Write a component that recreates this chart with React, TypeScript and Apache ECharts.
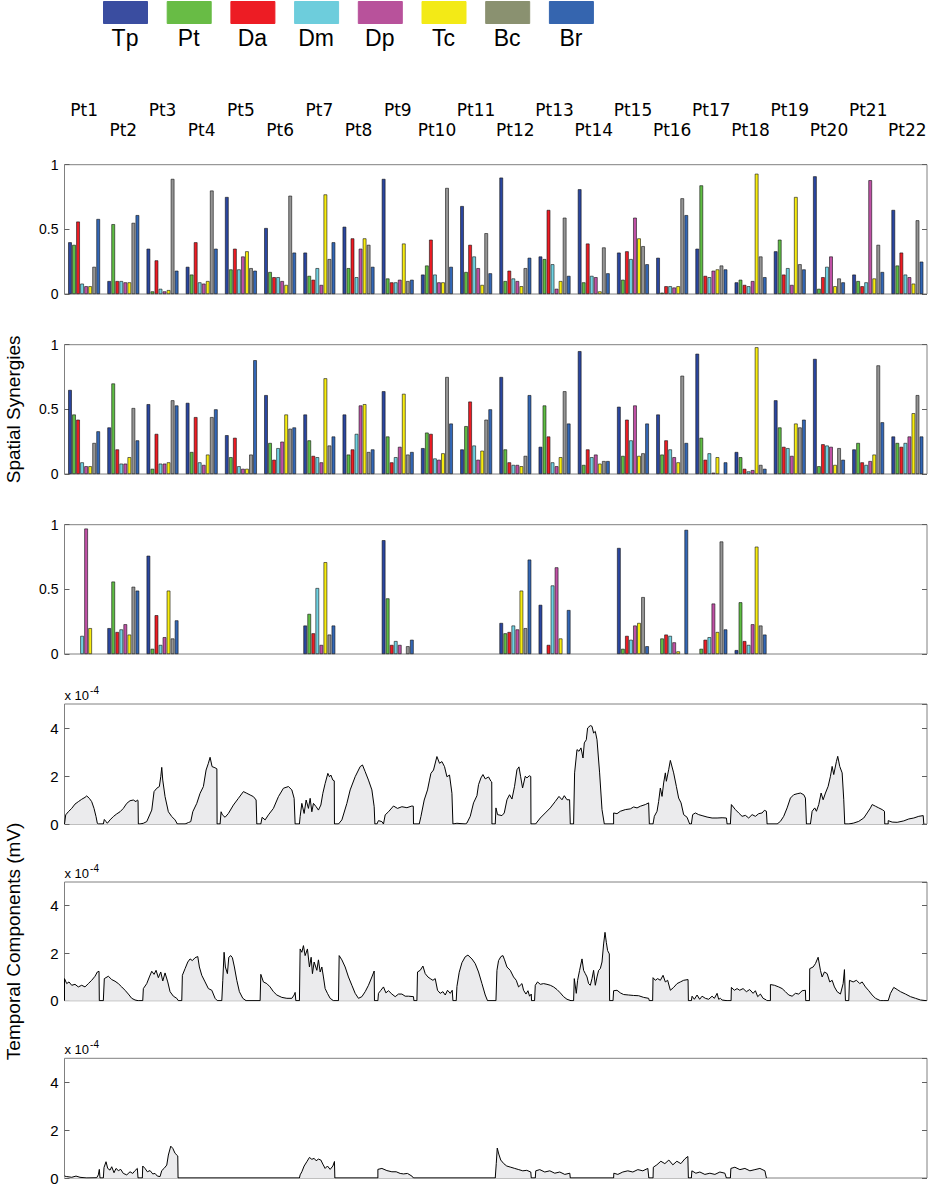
import React, { useEffect, useRef } from 'react';
import * as echarts from 'echarts';

const patients = ['Pt1','Pt2','Pt3','Pt4','Pt5','Pt6','Pt7','Pt8','Pt9','Pt10','Pt11','Pt12','Pt13','Pt14','Pt15','Pt16','Pt17','Pt18','Pt19','Pt20','Pt21','Pt22'];
const muscles = ['Tp','Pt','Da','Dm','Dp','Tc','Bc','Br'];
const legendColors = ['#3a4da0','#68bc45','#ed1c24','#6dcddc','#b8529b','#f3ea16','#8a9170','#3565af'];
const barColors = ['#2a46a0','#5fbd44','#ee1c24','#6fd2e2','#c050a6','#f7ec10','#959595','#3367b6'];
const spatialTitle = 'Spatial Synergies';
const temporalTitle = 'Temporal Components (mV)';

// rows = patients, columns = muscles (Tp, Pt, Da, Dm, Dp, Tc, Bc, Br)
const synergy1 = [
  [0.40,0.38,0.56,0.08,0.06,0.06,0.21,0.58],
  [0.10,0.54,0.10,0.10,0.09,0.09,0.55,0.61],
  [0.35,0.02,0.26,0.04,0.02,0.03,0.89,0.18],
  [0.21,0.15,0.40,0.09,0.08,0.10,0.80,0.35],
  [0.75,0.19,0.35,0.19,0.29,0.33,0.20,0.18],
  [0.51,0.17,0.13,0.13,0.10,0.07,0.76,0.32],
  [0.32,0.14,0.11,0.20,0.07,0.77,0.27,0.40],
  [0.52,0.20,0.43,0.13,0.35,0.43,0.38,0.21],
  [0.89,0.12,0.09,0.09,0.11,0.39,0.10,0.11],
  [0.15,0.22,0.42,0.15,0.09,0.09,0.82,0.21],
  [0.68,0.17,0.38,0.29,0.20,0.07,0.47,0.16],
  [0.90,0.10,0.18,0.12,0.10,0.06,0.20,0.28],
  [0.29,0.27,0.65,0.23,0.04,0.10,0.59,0.14],
  [0.81,0.09,0.39,0.14,0.13,0.02,0.36,0.16],
  [0.32,0.11,0.33,0.27,0.59,0.43,0.37,0.23],
  [0.28,0.01,0.06,0.06,0.05,0.06,0.74,0.61],
  [0.35,0.84,0.14,0.13,0.18,0.19,0.22,0.19],
  [0.09,0.11,0.07,0.06,0.10,0.93,0.29,0.13],
  [0.33,0.42,0.15,0.20,0.07,0.75,0.23,0.19],
  [0.91,0.04,0.13,0.21,0.29,0.06,0.12,0.09],
  [0.15,0.10,0.06,0.09,0.88,0.12,0.38,0.17],
  [0.65,0.22,0.32,0.15,0.13,0.08,0.57,0.25],
];

const synergy2 = [
  [0.65,0.46,0.42,0.09,0.06,0.06,0.24,0.33],
  [0.36,0.70,0.19,0.08,0.08,0.13,0.51,0.26],
  [0.54,0.04,0.31,0.08,0.08,0.09,0.57,0.53],
  [0.55,0.17,0.44,0.09,0.07,0.15,0.44,0.50],
  [0.30,0.13,0.28,0.06,0.04,0.04,0.15,0.88],
  [0.61,0.24,0.11,0.20,0.25,0.46,0.35,0.36],
  [0.46,0.26,0.14,0.13,0.09,0.74,0.22,0.29],
  [0.46,0.15,0.19,0.31,0.53,0.54,0.17,0.19],
  [0.64,0.29,0.09,0.13,0.21,0.62,0.15,0.17],
  [0.20,0.32,0.31,0.12,0.11,0.16,0.75,0.39],
  [0.19,0.37,0.56,0.22,0.11,0.18,0.42,0.50],
  [0.75,0.19,0.09,0.07,0.07,0.06,0.14,0.61],
  [0.21,0.53,0.29,0.09,0.06,0.13,0.64,0.39],
  [0.95,0.07,0.19,0.13,0.15,0.08,0.10,0.10],
  [0.52,0.14,0.42,0.26,0.53,0.14,0.16,0.39],
  [0.46,0.15,0.26,0.19,0.13,0.09,0.76,0.24],
  [0.93,0.28,0.11,0.16,0.01,0.13,null,0.09],
  [0.17,0.13,0.04,0.02,0.03,0.98,0.07,0.04],
  [0.57,0.36,0.21,0.20,0.14,0.39,0.36,0.42],
  [0.89,0.06,0.23,0.22,0.21,0.07,0.20,0.11],
  [0.19,0.24,0.09,0.07,0.10,0.15,0.84,0.40],
  [0.29,0.24,0.21,0.24,0.29,0.47,0.61,0.29],
];

const N = null;
const synergy3 = [
  [N,N,N,0.14,0.97,0.20,N,N],
  [0.20,0.56,0.17,0.19,0.23,0.15,0.52,0.49],
  [0.76,0.04,0.30,0.07,0.13,0.49,0.12,0.26],
  [N,N,N,N,N,N,N,N],
  [N,N,N,N,N,N,N,N],
  [N,N,N,N,N,N,N,N],
  [0.22,0.31,0.16,0.51,0.07,0.71,0.15,0.22],
  [N,N,N,N,N,N,N,N],
  [0.88,0.43,0.07,0.10,0.07,N,0.06,0.11],
  [N,N,N,N,N,N,N,N],
  [N,N,N,N,N,N,N,N],
  [0.24,0.16,0.17,0.22,0.19,0.49,0.20,0.73],
  [0.38,N,0.07,0.53,0.67,0.12,N,0.34],
  [N,N,N,N,N,N,N,N],
  [0.82,0.04,0.14,0.11,0.22,0.24,0.44,0.06],
  [N,0.12,0.15,0.14,0.09,0.02,N,0.96],
  [N,0.04,0.11,0.13,0.39,0.17,0.87,0.19],
  [0.03,0.40,0.10,0.07,0.23,0.83,0.22,0.15],
  [N,N,N,N,N,N,N,N],
  [N,N,N,N,N,N,N,N],
  [N,N,N,N,N,N,N,N],
  [N,N,N,N,N,N,N,N],
];

// temporal components: segments of [sample, value x 1e-4 mV]
const temporal1 = [
  [[0,0],[1.2,0.38],[3.8,0.51],[7.2,0.65],[10.5,0.83],[13.8,0.93],[17.2,1.03],[20.5,1.11],[22.2,1.17],[24.8,1.07],[27.2,0.93],[29.5,0.65],[31.5,0.31],[32.8,0.03],[33.8,0]],
  [[38.8,0],[39.8,0.19],[41.5,0.10],[42.8,0.03],[45.5,0.17],[48.8,0.31],[52.2,0.42],[55.5,0.51],[58.8,0.65],[62.2,0.86],[65.5,0.97],[68.8,1.00],[71.5,0.93],[72.8,1.00],[73.5,0.98],[73.8,0]],
  [[75.5,0],[78.8,0.03],[82.2,0.10],[87.2,0.58],[89.5,1.35],[92.2,1.49],[94.8,1.56],[96.2,1.97],[97.2,2.36],[98.2,1.83],[100.5,1.14],[103.8,0.51],[107.2,0.31],[110.5,0.17],[112.8,0]],
  [[120.5,0],[123.8,0.06],[126.2,0.10],[128.2,0.51],[132.2,0.86],[135.5,1.28],[138.8,1.56],[141.5,2.25],[143.8,2.53],[145.5,2.78],[147.5,2.39],[149.5,2.36],[151.5,2.32],[152.3,2.3],[152.5,0]],
  [[155.5,0],[156.5,0.51],[157.8,0.38],[160.5,0.28],[163.8,0.44],[168.8,0.79],[173.8,1.07],[178.8,1.35],[182.2,1.28],[185.5,1.21],[188.8,1.14],[191.5,1.00],[192.2,0]],
  [[196.2,0],[197.5,0.28],[200.5,0.17],[203.8,0.38],[208.8,0.65],[213.8,1.14],[218.8,1.49],[223.8,1.56],[227.2,1.42],[229.5,1.07],[230.5,0]],
  [[234.8,0],[235.5,0.31],[237.2,0.86],[239.5,0.44],[241.5,1.00],[243.8,0.65],[245.5,1.07],[247.2,0.51],[248.8,0.86],[251.5,0.72],[253.8,0.58],[256.2,0.79],[258.2,1.28],[260.5,1.69],[263.2,2.11],[264.8,1.97],[266.2,2.04],[268.2,1.83],[269.6,1.8],[269.8,0]],
  [[273.8,0],[277.2,0.17],[282.2,0.86],[285.5,1.42],[290.5,1.97],[295.5,2.39],[297.8,2.46],[300.5,2.18],[303.8,1.83],[307.2,1.42],[309.5,0.72],[310.2,0]],
  [[312.2,0],[313.8,0.14],[317.2,0.10],[318.8,0],[320.5,0.38],[323.8,0.51],[328.8,0.75],[332.8,0.65],[337.2,0.72],[342.2,0.68],[347.2,0.75],[348.6,0.74],[348.8,0]],
  [[354.5,0],[356.2,0.31],[359.5,1.00],[362.8,1.42],[364.8,1.83],[366.2,2.11],[368.8,2.25],[372.2,2.81],[374.8,2.53],[377.2,2.60],[379.8,2.39],[382.2,1.97],[384.8,2.04],[387.2,1.28],[388.2,0]],
  [[392.2,0.03],[400.5,0],[402.2,0.04],[405.5,0.32],[408.8,0.88],[412.2,1.18],[413.8,1.64],[416.2,1.92],[418.2,2.06],[420.5,1.88],[423.8,1.96],[426.2,1.78],[427,1.75],[427.2,0]],
  [[430.5,0],[431.2,0.67],[432.8,0.39],[437.2,0.35],[439.5,0.46],[442.2,1.01],[444.8,1.22],[447.2,1.04],[449.8,1.57],[452.2,2.26],[454.2,2.38],[455.8,1.99],[457.8,1.5],[460.5,1.99],[462.2,1.92],[464.5,2.01],[466,1.98],[466.2,0]],
  [[470.8,0],[475.5,0.25],[480.5,0.46],[485.5,0.67],[490.5,0.94],[494.2,1.15],[497.2,1.01],[499.5,1.18],[502.2,1.01],[504.8,1.01],[505.5,0]],
  [[508.8,0],[509.8,2.13],[512.2,3.10],[514.2,3.03],[516.2,3.17],[518.2,2.75],[519.5,3.38],[521.5,3.51],[522.8,4.00],[525.5,4.10],[527.2,4.07],[528.8,3.79],[530.5,3.86],[532.2,3.51],[534.8,2.13],[537.2,0.60],[539.5,0]],
  [[548.8,0],[548.8,0.46],[552.2,0.43],[555.5,0.53],[560.5,0.60],[565.5,0.63],[568.8,0.71],[572.2,0.67],[575.5,0.74],[580.5,0.81],[583.8,0.88],[584.5,0]],
  [[588.2,0],[589.5,0.32],[592.2,0.53],[593.8,0.94],[595.5,1.5],[597.2,1.15],[598.8,1.71],[600.5,2.13],[601.5,1.78],[603.8,2.26],[605.5,2.65],[608.8,2.13],[611.5,1.57],[613.8,1.08],[616.2,0.88],[618.8,0.39],[622.2,0.28],[624.8,0]],
  [[626.5,0],[627.8,0.39],[630.5,0.46],[633.8,0.39],[637.2,0.35],[642.2,0.29],[647.2,0.25],[652.2,0.25],[657.2,0.26],[661.5,0.25],[662.2,0]],
  [[665.5,0],[666.5,0.81],[670.5,0.60],[673.8,0.46],[677.2,0.32],[680.5,0.36],[683.8,0.25],[687.2,0.39],[690.5,0.32],[693.8,0.43],[697.2,0.46],[699.5,0.57],[701.5,0.53],[702.2,0]],
  [[712.2,0],[715.5,0.11],[718.8,0.32],[722.2,0.67],[725.5,1.08],[728.8,1.22],[732.2,1.26],[735.5,1.29],[738.8,1.22],[740.5,1.08],[741.5,0]],
  [[745.5,0],[747.2,0.53],[749.8,0.67],[751.5,0.53],[753.8,0.81],[756.2,1.29],[758.2,1.01],[760.5,1.29],[763.2,1.57],[765.5,1.99],[767.2,2.40],[768.8,2.06],[771.5,2.61],[772.8,2.82],[774.8,2.40],[777.2,2.13],[778.8,1.01],[779.8,0]],
  [[783.8,0],[788.8,0.04],[793.8,0.11],[798.8,0.25],[802.2,0.46],[805.5,0.67],[807.2,0.81],[810.5,0.74],[813.8,0.67],[817.2,0.60],[819.5,0.53],[819.8,0]],
  [[823.2,0],[823.2,0.14],[827.2,0.08],[832.2,0.07],[838.8,0.13],[843.8,0.21],[848.8,0.25],[853.8,0.32],[858.2,0.35],[858.8,0]],
];

const temporal2 = [
  [[0,0],[0,0.93],[2.2,0.72],[4.5,0.79],[7.2,0.65],[10.5,0.69],[13.8,0.58],[17.2,0.65],[20.5,0.58],[23.8,0.72],[27.2,0.86],[30.5,1.03],[32.8,1.21],[34.5,1.24],[34.8,0]],
  [[38.8,0],[39.8,0.93],[43.8,1.03],[47.2,0.89],[50.5,0.82],[53.8,0.72],[57.2,0.58],[60.5,0.44],[63.8,0.28],[67.2,0.10],[70.5,0.03],[73.8,0]],
  [[78.2,0],[78.8,0.51],[82.2,0.72],[84.8,1.0],[87.2,1.24],[89.5,1.11],[91.5,1.28],[93.8,0.97],[96.2,1.21],[98.2,0.83],[100.5,1.17],[103.2,0.79],[105.5,0.38],[108.8,0.19],[112.2,0.10],[113.8,0]],
  [[117.2,0],[117.8,1.07],[120.5,1.35],[123.2,1.63],[125.5,1.76],[127.8,1.69],[130.5,1.81],[133.2,1.86],[134.8,1.42],[137.2,1.07],[140.5,0.79],[143.8,0.51],[147.2,0.44],[150.5,0.10],[152.8,0]],
  [[157.2,0],[158.2,0.86],[159.5,2.04],[160.8,1.42],[162.8,1.14],[164.2,1.83],[166.2,1.90],[167.8,1.81],[169.8,1.42],[172.2,0.86],[174.8,0.38],[178.2,0.10],[181.5,0]],
  [[195.5,0],[196.2,1.11],[198.8,0.79],[202.2,0.72],[205.5,0.58],[208.8,0.38],[212.2,0.24],[217.2,0.14],[222.2,0.10],[227.2,0.10],[229.5,0.24],[230.5,0.35],[231.2,0]],
  [[234.8,0],[235.5,2.18],[237.2,2.04],[238.8,2.32],[240.5,1.90],[242.8,2.18],[244.8,1.42],[246.5,1.83],[247.8,1.14],[249.5,1.63],[252.2,1.28],[253.8,1.72],[255.5,1.21],[257.2,1.42],[258.8,1.0],[260.5,0.51],[262.8,0.31],[265.5,0.10],[268.8,0]],
  [[273.8,0],[274.5,1.90],[277.2,1.72],[280.5,1.42],[283.8,1.0],[287.2,0.65],[290.5,0.31],[293.8,0.10],[297.2,0.17],[300.5,0.38],[303.8,0.65],[307.2,1.0],[309.5,1.25],[309.8,0]],
  [[313.2,0],[313.8,0.31],[316.2,0.44],[318.8,0.58],[321.2,0.33],[323.8,0.42],[327.2,0.28],[330.5,0.17],[333.8,0.28],[337.2,0.28],[340.5,0.19],[343.8,0.19],[348.8,0.17],[349.2,0]],
  [[352.2,0],[352.8,1.21],[355.5,1.28],[358.2,1.46],[360.5,1.14],[363.2,1.0],[365.5,0.93],[368.2,0.86],[370.5,0.93],[372.8,0.44],[375.5,0.31],[378.2,0.38],[380.5,0.24],[382.8,0.44],[385.5,0.31],[387.5,0.44],[388.2,0]],
  [[391.5,0],[392.2,0.6],[394.5,1.2],[397.2,1.6],[400.5,1.85],[403.2,1.92],[407.2,1.76],[410.5,1.56],[413.8,1.21],[417.2,0.72],[420.5,0.24],[422.8,0]],
  [[431.2,0],[432.2,1.28],[433.8,1.69],[436.2,1.86],[438.2,1.90],[439.8,1.72],[442.2,1.42],[445.5,1.28],[448.8,1.0],[451.5,0.86],[453.8,0.58],[457.2,0.72],[458.8,0.44],[461.2,0.28],[463.2,0.42],[464.8,0.19],[466.5,0.28],[466.8,0]],
  [[469.8,0],[470.5,0.65],[472.8,0.79],[475.5,0.69],[478.8,0.72],[482.2,0.69],[485.5,0.65],[488.8,0.58],[492.2,0.47],[495.5,0.33],[498.8,0.17],[502.2,0.06],[506.2,0]],
  [[508.8,0],[509.5,0.93],[511.5,0.31],[512.8,0.86],[514.8,1.28],[517.2,1.76],[518.8,1.28],[520.5,1.14],[522.2,1.0],[523.8,0.72],[525.5,0.65],[527.2,0.93],[528.8,1.28],[530.5,0.65],[532.2,1.0],[533.8,1.28],[535.5,1.35],[537.2,1.63],[538.8,2.39],[540.2,2.88],[541.5,2.46],[542.8,2.11],[544.5,1.97],[544.8,0]],
  [[548.2,0],[548.8,0.42],[552.2,0.44],[555.5,0.33],[558.8,0.26],[563.8,0.24],[568.8,0.22],[573.8,0.21],[578.8,0.14],[583.8,0.10],[584.5,0]],
  [[587.8,0],[588.2,0.97],[590.5,0.86],[592.8,0.93],[595.5,0.86],[598.2,1.07],[600.5,0.79],[602.8,0.86],[605.5,0.44],[608.8,0.56],[612.2,0.72],[615.5,0.79],[618.8,0.86],[623.2,0.89],[623.5,0]],
  [[626.5,0],[627.2,0.19],[629.5,0.06],[632.2,0.24],[634.8,0.06],[637.2,0.19],[640.5,0.10],[643.8,0.06],[647.2,0.19],[649.5,0.10],[652.2,0.31],[653.8,0.06],[655.5,0.10],[657.2,0.03],[662.2,0]],
  [[666.2,0],[666.5,0.56],[669.5,0.44],[672.2,0.51],[674.8,0.44],[678.2,0.51],[681.5,0.38],[684.8,0.47],[688.2,0.31],[690.5,0.42],[692.8,0.17],[695.5,0.28],[698.2,0.10],[701.5,0.03],[702.2,0]],
  [[705.5,0],[705.5,0.68],[709.5,0.65],[713.8,0.58],[717.2,0.51],[720.5,0.38],[723.8,0.24],[727.2,0.19],[730.5,0.31],[733.8,0.28],[737.2,0.42],[740.5,0.44],[740.8,0]],
  [[744.5,0],[744.8,1.35],[748.2,1.42],[750.5,1.56],[753.2,1.83],[755.5,1.28],[757.2,1.0],[759.5,1.21],[762.2,1.14],[764.8,0.79],[767.2,0.86],[769.5,0.58],[772.2,0.38],[775.5,0.28],[778.2,0.72],[779.5,1.31],[780.5,0]],
  [[783.8,0],[784.5,0.86],[788.2,0.79],[791.5,0.86],[794.8,0.72],[797.2,0.79],[800.5,0.58],[803.8,0.42],[807.2,0.24],[810.5,0.10],[815.5,0],[818.8,0]],
  [[823.2,0],[825.5,0.31],[828.8,0.56],[832.2,0.47],[835.5,0.38],[840.5,0.28],[845.5,0.17],[850.5,0.10],[855.5,0.03],[861.5,0]],
];

const temporal3 = [
  [[0,0.08],[2.2,0.06],[7.2,0.03],[11.5,0.08],[15.5,0.03],[22.2,0],[32.2,0.01],[33.8,0.13],[34.8,0.36],[35.5,0]],
  [[38.8,0],[39.5,0.44],[41.5,0.68],[43.2,0.40],[45.5,0.33],[47.2,0.47],[49.5,0.22],[51.5,0.40],[53.8,0.31],[56.2,0.36],[58.8,0.19],[62.2,0.13],[65.5,0.26],[68.2,0.19],[70.5,0.31],[72.8,0.40],[73.5,0]],
  [[77.8,0],[78.2,0.5],[80.5,0.40],[82.8,0.26],[85.5,0.31],[88.2,0.17],[90.5,0.19],[92.8,0.08],[95.5,0.06],[97.2,0.31],[99.5,0.40],[102.2,0.54],[103.8,0.96],[106.2,1.33],[108.2,1.24],[110.5,1.03],[113.2,0.92],[113.5,0]],
  [[234.8,0],[235.5,0.13],[237.2,0.26],[239.5,0.5],[242.2,0.68],[244.8,0.86],[247.2,0.78],[249.5,0.82],[251.5,0.72],[253.8,0.79],[256.2,0.75],[258.2,0.58],[260.5,0.40],[262.8,0.5],[265.5,0.36],[268.2,0.5],[269.8,0.69],[270.2,0]],
  [[313.2,0],[313.2,0.36],[317.2,0.40],[322.2,0.31],[327.2,0.26],[331.5,0.26],[335.5,0.19],[338.8,0.17],[342.8,0.19],[347.2,0.08],[348.8,0]],
  [[430.5,0],[431.5,0.6],[432.5,1.25],[434,1.0],[436,0.75],[439,0.6],[442,0.5],[446,0.45],[450,0.4],[454,0.35],[458,0.3],[462,0.32],[466,0.25],[466.5,0]],
  [[470.5,0],[471,0.3],[475,0.35],[480,0.25],[485,0.3],[490,0.2],[495,0.25],[500,0.15],[505,0.2],[505.5,0]],
  [[548.8,0],[549,0.2],[553,0.15],[558,0.25],[563,0.3],[568,0.25],[573,0.35],[578,0.3],[583,0.4],[584,0]],
  [[588.2,0],[588.5,0.45],[592,0.55],[596,0.7],[600,0.6],[604,0.75],[608,0.55],[612,0.7],[616,0.6],[620,0.8],[623,0.9],[623.5,0]],
  [[626.5,0],[627,0.3],[631,0.2],[635,0.25],[640,0.15],[645,0.2],[650,0.15],[655,0.25],[660,0.2],[661.5,0]],
  [[665.5,0],[666,0.4],[670,0.45],[675,0.35],[680,0.4],[685,0.3],[690,0.35],[695,0.4],[700,0.3],[701.5,0]],
];

const spatialRange = [0, 1];
const spatialStep = 0.5;
const temporalRange = [0, 5];
const temporalStep = 2;
const sampleCount = 862;

const GRID_LEFT = 64.5;
const GRID_RIGHT = 17;
const gridBoxes = [
  { top: 164.7, height: 129.3 },
  { top: 344.7, height: 129.3 },
  { top: 524.7, height: 129.3 },
  { top: 704, height: 120 },
  { top: 882, height: 118.7 },
  { top: 1058.3, height: 119.7 },
];

const FONT = 'Liberation Sans, Arial, sans-serif';

export default function App() {
  const ref = useRef<HTMLDivElement>(null);
  useEffect(() => {
    document.body.style.margin = '0';
    if (!ref.current) return;
    const chart = echarts.init(ref.current, undefined, { renderer: 'svg' });
    const synergies = [synergy1, synergy2, synergy3];
    const temporals = [temporal1, temporal2, temporal3];

    const grid = gridBoxes.map((g) => ({
      left: GRID_LEFT, right: GRID_RIGHT, top: g.top, height: g.height,
      show: true, borderColor: '#808080', borderWidth: 1, backgroundColor: 'transparent',
    }));

    const xAxis: any[] = [];
    const yAxis: any[] = [];
    for (let i = 0; i < 3; i++) {
      xAxis.push({
        gridIndex: i, type: 'category', data: patients, boundaryGap: true,
        position: i === 0 ? 'top' : 'bottom',
        axisLine: { show: false }, axisTick: { show: false }, splitLine: { show: false },
        axisLabel: i === 0 ? {
          show: true, interval: 0, fontFamily: 'DejaVu Sans, Verdana, sans-serif', fontSize: 17,
          lineHeight: 20, color: '#000', margin: 25,
          formatter: (v: string, idx: number) => (idx % 2 === 0 ? v + '\n ' : v),
        } : { show: false },
      });
    }
    for (let i = 3; i < 6; i++) {
      xAxis.push({ gridIndex: i, type: 'value', min: 0, max: sampleCount, show: false });
    }
    for (let i = 0; i < 6; i++) {
      const isBar = i < 3;
      const range = isBar ? spatialRange : temporalRange;
      const step = isBar ? spatialStep : temporalStep;
      const left: any = {
        gridIndex: i, type: 'value', position: 'left', min: range[0], max: range[1], interval: step,
        axisLine: { show: false, onZero: false },
        axisTick: { show: true, inside: true, length: 5, lineStyle: { color: '#606060' } },
        splitLine: { show: false },
        axisLabel: { fontFamily: FONT, fontSize: isBar ? 14 : 15, color: '#000', margin: 6, showMaxLabel: isBar ? true : false },
      };
      if (!isBar) {
        left.name = '{a|x 10}{b|-4}';
        left.nameLocation = 'end';
        left.nameGap = 2;
        left.nameTextStyle = {
          align: 'left', verticalAlign: 'bottom',
          rich: {
            a: { fontFamily: FONT, fontSize: 13, lineHeight: 13, color: '#000', verticalAlign: 'bottom' },
            b: { fontFamily: FONT, fontSize: 10, lineHeight: 10, color: '#000', verticalAlign: 'bottom', padding: [0, 0, 7, 1] },
          },
        };
      }
      yAxis.push(left);
      yAxis.push({
        gridIndex: i, type: 'value', position: 'right', min: range[0], max: range[1], interval: step,
        axisLine: { show: false, onZero: false },
        axisTick: { show: true, inside: true, length: 5, lineStyle: { color: '#606060' } },
        splitLine: { show: false }, axisLabel: { show: false },
      });
    }

    const series: any[] = [];
    synergies.forEach((rows, p) => {
      muscles.forEach((m, k) => {
        series.push({
          type: 'bar', name: m, xAxisIndex: p, yAxisIndex: p * 2,
          data: rows.map((r) => r[k]),
          barWidth: 3.6, barGap: '12%',
          itemStyle: { color: barColors[k], borderColor: '#111', borderWidth: 0.6 },
          silent: true,
        });
      });
    });
    temporals.forEach((segs, p) => {
      series.push({
        type: 'line', xAxisIndex: 3 + p, yAxisIndex: (3 + p) * 2,
        data: segs.flat(), symbol: 'none', showSymbol: false, smooth: false,
        lineStyle: { color: '#000', width: 1 },
        areaStyle: { color: '#ebebed', opacity: 1 },
        silent: true,
      });
    });

    const graphic: any[] = [];
    muscles.forEach((m, k) => {
      const x = 103 + k * 63.7;
      graphic.push({
        type: 'rect', left: x, top: 1, shape: { width: 44, height: 22 },
        style: { fill: legendColors[k], stroke: legendColors[k], lineWidth: 1 },
      });
      graphic.push({
        type: 'text', x: x + 22, y: 38,
        style: { text: m, fill: '#000', font: `23px ${FONT}`, textAlign: 'center', textVerticalAlign: 'middle' },
      });
    });
    const titleMid = (g: { top: number; height: number }) => g.top + g.height / 2;
    graphic.push({
      type: 'text', x: 13, y: titleMid(gridBoxes[1]), rotation: Math.PI / 2,
      style: { text: spatialTitle, fill: '#000', font: `19px ${FONT}`, textAlign: 'center', textVerticalAlign: 'middle' },
    });
    graphic.push({
      type: 'text', x: 13, y: titleMid(gridBoxes[4]), rotation: Math.PI / 2,
      style: { text: temporalTitle, fill: '#000', font: `19px ${FONT}`, textAlign: 'center', textVerticalAlign: 'middle' },
    });

    chart.setOption({
      animation: false,
      grid, xAxis, yAxis, series, graphic,
    });
    return () => chart.dispose();
  }, []);
  return <div ref={ref} style={{ width: 944, height: 1191 }} />;
}
